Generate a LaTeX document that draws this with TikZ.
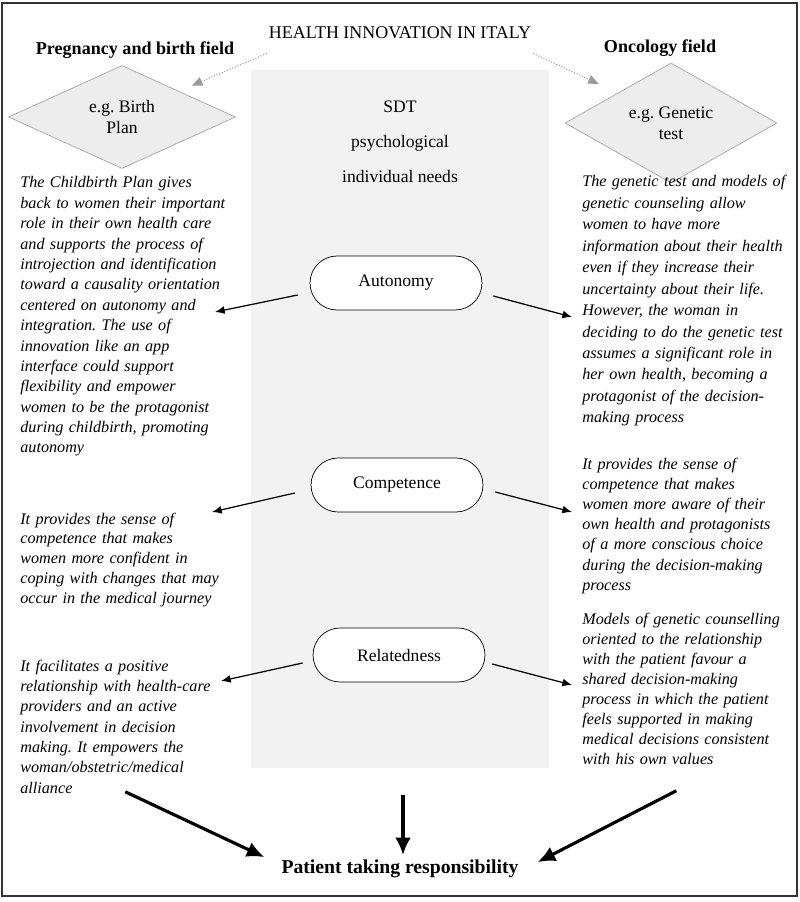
\documentclass[tikz,border=0pt]{standalone}
\usepackage{fontspec}
\setmainfont{Liberation Serif}
\usetikzlibrary{shapes.geometric,arrows.meta}
\definecolor{panelgray}{HTML}{F2F2F2}
\definecolor{fieldgray}{HTML}{EDEDED}
\definecolor{fieldline}{HTML}{A6A6A6}
\definecolor{hintgray}{HTML}{9A9A9A}
\definecolor{framegray}{HTML}{333333}
\frenchspacing

\begin{document}
\begin{tikzpicture}[x=0.02cm,y=-0.02cm,
  note/.style={anchor=base west,inner sep=0pt,text width=4.4cm,align=left},
  notefont/.style={font=\fontsize{9.2}{#1}\selectfont\itshape},
  need/.style={draw,fill=white,rectangle,rounded corners=0.54cm,minimum width=3.44cm,minimum height=1.08cm,font=\fontsize{10}{12}\selectfont},
  field/.style={diamond,draw=fieldline,fill=fieldgray,inner sep=0pt,align=center,font=\fontsize{10}{12}\selectfont},
  heading/.style={anchor=base,font=\bfseries\fontsize{10.3}{12}\selectfont},
  plain/.style={anchor=base,font=\fontsize{10}{12}\selectfont},
  needarrow/.style={-{Latex[length=5.5pt,width=4.5pt]},line width=0.7pt},
  bigarrow/.style={-{Latex[length=10pt,width=9pt]},line width=1.8pt},
  hint/.style={densely dotted,draw=hintgray,line width=0.6pt,-{Triangle[length=6pt,width=5pt,fill=hintgray]}}]
\useasboundingbox (0,0) rectangle (800,902);
\draw[line width=0.8pt,draw=framegray] (2,3) rectangle (797,896);
%\draw[help lines] (0,0) grid (800,902);
\node[fill=panelgray,minimum width=5.96cm,minimum height=13.96cm,inner sep=0pt] (panel) at (400,419) {};

\path
(400,39) node[plain,font=\fontsize{10.2}{12}\selectfont] (title) {HEALTH INNOVATION IN ITALY}
(135,55) node[heading] (pregfield) {Pregnancy and birth field}
(660,53) node[heading] (oncofield) {Oncology field}
(122,117) node[field,minimum width=4.54cm,minimum height=2.06cm,aspect=2.2] (birthplan) {e.g. Birth\\Plan}
(671,123) node[field,minimum width=4.24cm,minimum height=2.4cm,aspect=1.8] (genetest) {e.g. Genetic\\test}
(400,113) node[plain] (sdt) {SDT}
(400,148) node[plain] (sdtpsych) {psychological}
(400,183) node[plain] (sdtneeds) {individual needs}
(396,283) node[need] (autonomy) {Autonomy}
(397,485) node[need] (competence) {Competence}
(399,655) node[need] (relatedness) {Relatedness}
(400,873) node[anchor=base,font=\bfseries\fontsize{11.2}{13}\selectfont] (patient) {Patient taking responsibility}
;

% pregnancy side
\node[note,notefont=11.6pt] (lefta) at (20,188) {The Childbirth Plan gives\\
back to women their important\\
role in their own health care\\
and supports the process of\\
introjection and identification\\
toward a causality orientation\\
centered on autonomy and\\
integration. The use of\\
innovation like an app\\
interface could support\\
flexibility and empower\\
women to be the protagonist\\
during childbirth, promoting\\
autonomy};
\node[note,notefont=11.3pt] (leftc) at (20,524) {It provides the sense of\\
competence that makes\\
women more confident in\\
coping with changes that may\\
occur in the medical journey};
\node[note,notefont=11.6pt] (leftr) at (20,671) {It facilitates a positive\\
relationship with health-care\\
providers and an active\\
involvement in decision\\
making. It empowers the\\
woman/obstetric/medical\\
alliance};

% oncology side
\node[note,notefont=12.2pt] (righta) at (582,187) {The genetic test and models of\\
genetic counseling allow\\
women to have more\\
information about their health\\
even if they increase their\\
uncertainty about their life.\\
However, the woman in\\
deciding to do the genetic test\\
assumes a significant role in\\
her own health, becoming a\\
protagonist of the decision-\\
making process};
\node[note,notefont=11.5pt] (rightc) at (582,469) {It provides the sense of\\
competence that makes\\
women more aware of their\\
own health and protagonists\\
of a more conscious choice\\
during the decision-making\\
process};
\node[note,notefont=11.4pt] (rightr) at (582,624) {Models of genetic counselling\\
oriented to the relationship\\
with the patient favour a\\
shared decision-making\\
process in which the patient\\
feels supported in making\\
medical decisions consistent\\
with his own values};

\coordinate (lefta-tip) at (215,312);
\coordinate (righta-tip) at (572,317);
\coordinate (leftc-tip) at (212,512);
\coordinate (rightc-tip) at (572,512);
\coordinate (leftr-tip) at (221,681);
\coordinate (rightr-tip) at (572,685);

\draw[hint,shorten >=8pt] ([shift={(4,8)}]title.south west) -- (birthplan.north east);
\draw[hint,shorten >=12pt] ([shift={(-4,8)}]title.south east) -- (genetest.north west);

\draw[needarrow] ([shift={(-12,12)}]autonomy.west) -- (lefta-tip);
\draw[needarrow] ([shift={(11,13)}]autonomy.east) -- (righta-tip);
\draw[needarrow] ([shift={(-16,8)}]competence.west) -- (leftc-tip);
\draw[needarrow] ([shift={(12,7)}]competence.east) -- (rightc-tip);
\draw[needarrow] ([shift={(-10,8)}]relatedness.west) -- (leftr-tip);
\draw[needarrow] ([shift={(7,9)}]relatedness.east) -- (rightr-tip);

\draw[bigarrow] ([shift={(-5,-2)}]leftr.south) -- ([shift={(-11,4)}]patient.north west);
\draw[bigarrow] ([shift={(3,27)}]panel.south) -- ([shift={(3,2)}]patient.north);
\draw[bigarrow] ([shift={(-16,26)}]rightr.south) -- ([shift={(13,9)}]patient.north east);
\end{tikzpicture}
\end{document}
